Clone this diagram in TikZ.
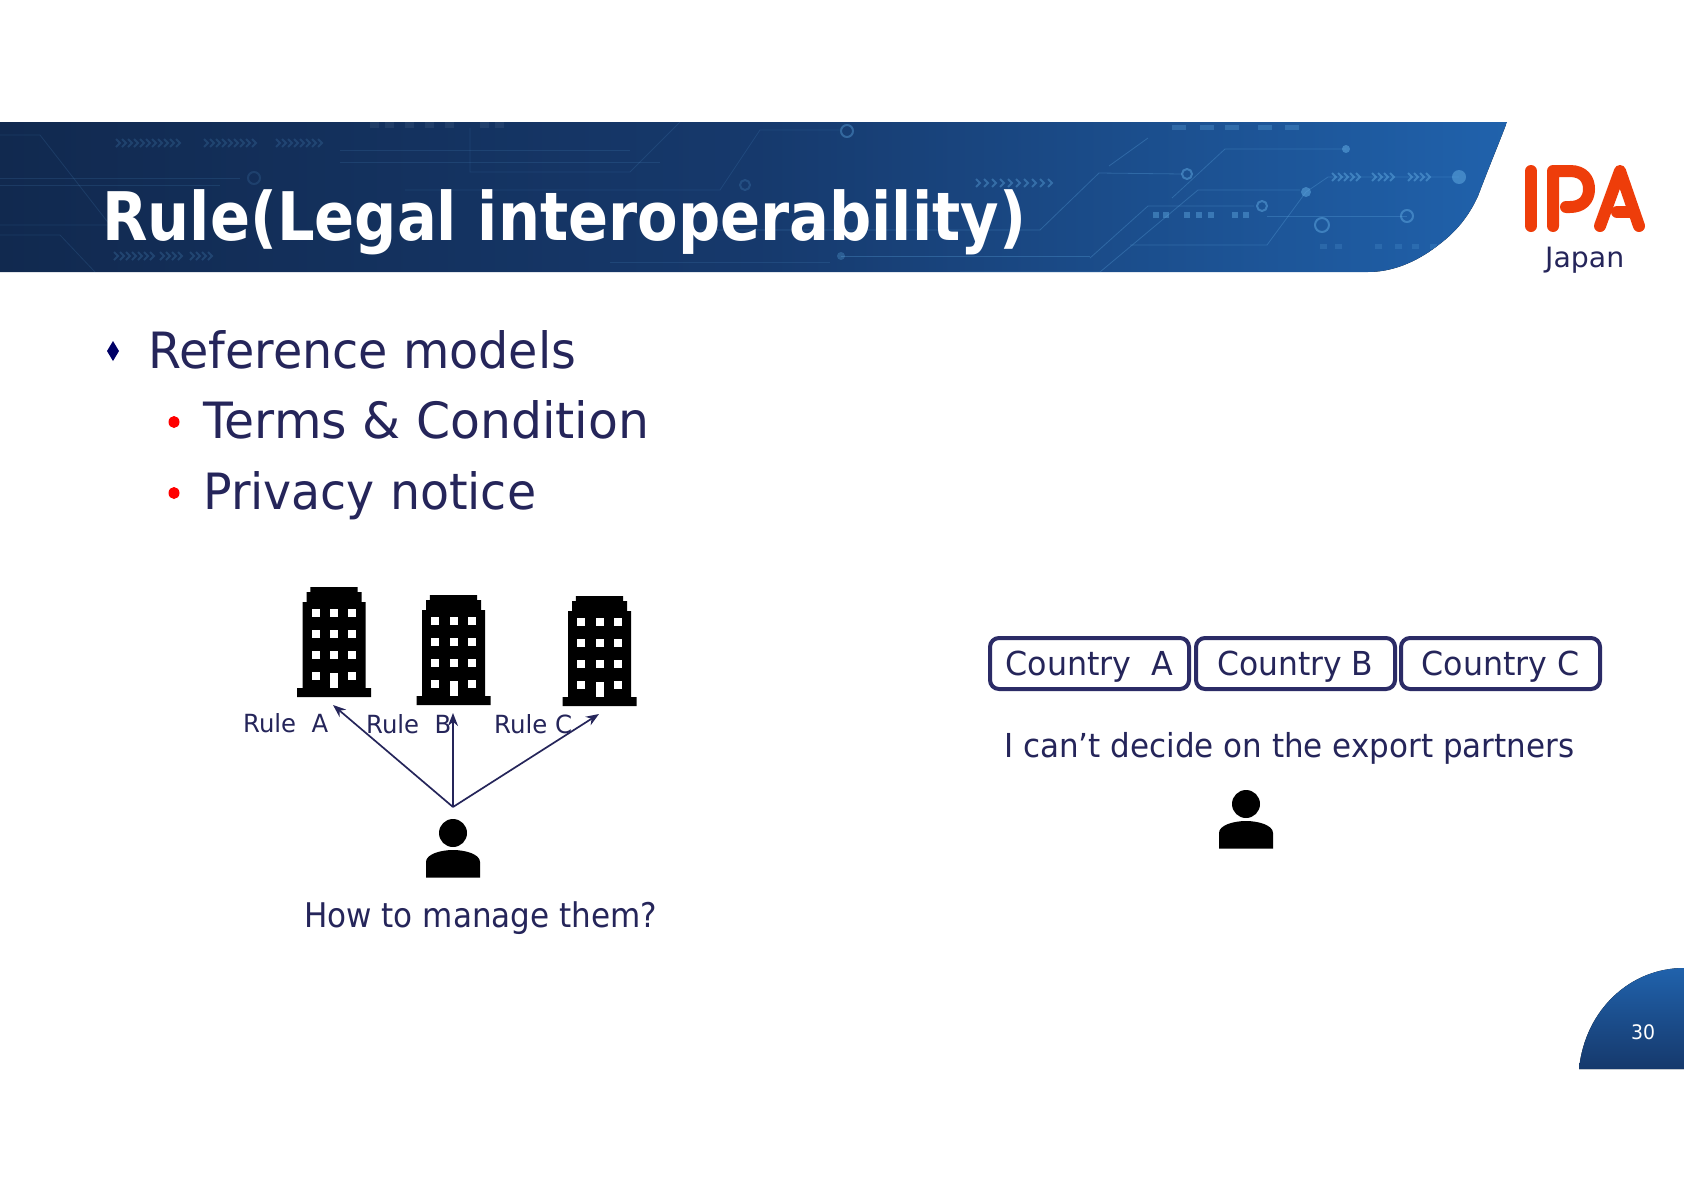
\documentclass[tikz,border=0pt]{standalone}
\usepackage{graphicx}
\usepackage{fontspec}
\setmainfont{DejaVu Sans}
\usetikzlibrary{arrows.meta}
\definecolor{ink}{HTML}{25255A}
\definecolor{boxline}{HTML}{2B2B66}
\definecolor{logored}{HTML}{EE3D0A}
\definecolor{bnavy}{HTML}{000066}
\definecolor{deco}{HTML}{5FA8E0}
\definecolor{ban1}{HTML}{11294F}
\definecolor{ban2}{HTML}{16396C}
\definecolor{ban3}{HTML}{2062AC}
\newcommand{\fw}[2]{\resizebox{#1pt}{\height}{#2}}
\tikzset{
  lab/.style={anchor=base west,inner sep=0pt,text=ink},
  big/.style={lab,font=\fontsize{50}{52}\selectfont},
  rulelab/.style={lab,font=\fontsize{25}{27}\selectfont},
  midlab/.style={lab,font=\fontsize{33}{35}\selectfont},
  cbox/.style={draw=boxline,line width=4pt,rounded corners=9pt,minimum width=199pt,minimum height=51pt,inner sep=0pt,text=ink,text height=23pt,text depth=0pt,font=\fontsize{33}{35}\selectfont},
  link/.style={draw=ink,line width=1.7pt,-{Stealth[length=13pt,width=10pt]}},
  logostroke/.style={draw=logored,line width=12pt,line cap=round,line join=round},
  dl/.style={draw=deco,line width=.8pt,opacity=.3},
  dlfaint/.style={draw=deco,line width=.8pt,opacity=.14},
  dr/.style={draw=deco,line width=2pt,opacity=.5,fill=none},
  dd/.style={fill=deco,opacity=.55},
  building/.pic={
    \fill[black] (-37,0) -- (-37,-9) -- (-31.5,-9) -- (-31.5,-95) -- (-27.5,-95) -- (-27.5,-105) -- (-23.7,-105) -- (-23.7,-110) -- (23.7,-110) -- (23.7,-105) -- (27.5,-105) -- (27.5,-95) -- (31.5,-95) -- (31.5,-9) -- (37,-9) -- (37,0) -- cycle;
    \foreach \wy in {-84,-63,-42} \foreach \wx in {-18.3,0,18.3}
      \fill[white] (\wx-4,\wy-4) rectangle (\wx+4,\wy+4);
    \fill[white] (-22.3,-25) rectangle (-14.3,-17);
    \fill[white] (14.3,-25) rectangle (22.3,-17);
    \fill[white] (-4,-24) rectangle (4,-9);
  },
  personbody/.pic={
    \fill[black] (-27,27.5) -- (-27,12) .. controls (-27,4) and (-12,0) .. (0,0) .. controls (12,0) and (27,4) .. (27,12) -- (27,27.5) -- cycle;
  }
}
\newcommand{\chev}[3]{\foreach \cx in {#1} \draw[deco,line width=1.8pt,opacity=#3] (\cx,#2-4) -- (\cx+4,#2) -- (\cx,#2+4);}
\begin{document}
\begin{tikzpicture}[x=1pt,y=-1pt]
\useasboundingbox (0,0) rectangle (1684,1191);
\fill[white] (0,0) rectangle (1684,1191);

% banner
\begin{scope}
  \clip (0,122) -- (1507,122) .. controls (1497,148) and (1487,172) .. (1478,196) .. controls (1468,218) and (1455,232) .. (1441,243) .. controls (1420,260) and (1395,272) .. (1368,272) -- (0,272) -- cycle;
  \fill[left color=ban1,right color=ban3,middle color=ban2] (0,122) rectangle (1507,272);
  % circuit decoration
  \draw[dlfaint] (0,135) -- (40,135) -- (110,225) -- (0,225);
  \draw[dlfaint] (0,185) -- (220,185) (240,178) -- (0,178);
  \draw[dlfaint] (0,235) -- (60,235) -- (95,272);
  \draw[dlfaint] (470,128) -- (470,172) -- (630,172) -- (680,122);
  \draw[dlfaint] (405,190) -- (720,190) -- (760,130) -- (840,130);
  \draw[dlfaint] (340,150) -- (630,150) (340,162) -- (660,162);
  \draw[dlfaint] (610,262) -- (830,262);
  \draw[dl] (700,230) -- (1040,230) -- (1099,173) -- (1182,174);
  \draw[dl] (1109,166) -- (1148,138);
  \draw[dl] (1172,198) -- (1225,149) -- (1346,149);
  \draw[dl] (1090,258) -- (1148,206) -- (1254,206);
  \draw[dl] (960,272) -- (1100,272) -- (1198,190) -- (1300,190);
  \draw[dl] (1130,245) -- (1267,245) -- (1306,192) -- (1328,177) -- (1459,177);
  \draw[dl] (1267,216) -- (1407,216);
  \draw[dl] (841,256) -- (1090,256);
  \draw[dr,opacity=.4] (847,131) circle (6);
  \draw[dr] (1187,174) circle (5);
  \draw[dr] (1262,206) circle (5);
  \draw[dr] (1322,225) circle (7);
  \draw[dr] (1407,216) circle (6);
  \draw[dr,opacity=.15] (254,178) circle (6);
  \draw[dr,opacity=.2] (745,185) circle (5);
  \fill[dd] (1346,149) circle (4);
  \fill[dd] (1306,192) circle (5);
  \fill[dd] (1459,177) circle (7);
  \fill[dd,opacity=.3] (841,256) circle (4);
  \chev{116,122,...,176}{143}{.18}
  \chev{204,210,...,252}{143}{.18}
  \chev{276,282,...,318}{143}{.18}
  \chev{114,120,...,150}{256}{.2}
  \chev{160,166,...,178}{256}{.2}
  \chev{190,196,...,210}{256}{.2}
  \chev{976,984,...,1048}{183}{.4}
  \chev{1332,1338,...,1356}{177}{.5}
  \chev{1372,1378,...,1392}{177}{.5}
  \chev{1408,1414,...,1428}{177}{.5}
  \foreach \dx in {1153,1163,1184,1196,1208,1232,1243}
    \fill[dd,opacity=.45] (\dx,212) rectangle (\dx+6,218);
  \foreach \dx in {1172,1200,1225,1258,1285}
    \fill[dd,opacity=.3] (\dx,125) rectangle (\dx+14,130);
  \foreach \dx in {1320,1335,1375,1395,1412,1430}
    \fill[dd,opacity=.2] (\dx,244) rectangle (\dx+7,249);
  \foreach \dx in {370,385,405,425,445,480,495}
    \fill[white,opacity=.06] (\dx,122) rectangle (\dx+9,128);
\end{scope}
\node[anchor=base west,inner sep=0pt,text=white,font=\fontsize{67}{69}\selectfont\bfseries] (title) at (102,240) {\fw{924}{Rule(Legal interoperability)}};

% logo
\draw[logostroke] (1531,171) -- (1531,226);
\draw[logostroke] (1553,226) -- (1553,171) -- (1570,171) .. controls (1584,171) and (1589,180) .. (1589,189) .. controls (1589,200) and (1582,207) .. (1570,207) -- (1566,207);
\draw[logostroke] (1600,226) -- (1620,171) -- (1639,226);
\draw[logostroke] (1617,212) -- (1632,212);
\node[lab,font=\fontsize{28}{30}\selectfont] (japan) at (1545,267) {\fw{79}{Japan}};

% bullets
\node[big] (refm) at (148,368) {\fw{428}{Reference models}};
\node[big] (terms) at (203,438) {\fw{446}{Terms \& Condition}};
\node[big] (priv) at (203,509) {\fw{333}{Privacy notice}};
\fill[bnavy] (113,341) -- (119,351) -- (113,361) -- (107,351) -- cycle;
\fill[red] (174,422) ellipse (5.5 and 6);
\fill[red] (174,493) ellipse (5.5 and 6);

% buildings
\pic at (334,697) {building};
\pic at (453.5,705) {building};
\pic at (599.5,706) {building};
\coordinate (ruleA) at (333,705);
\coordinate (ruleB) at (453,713);
\coordinate (ruleC) at (599,714);
\coordinate (asker) at (453,807);
\node[rulelab] (labA) at (243,732) {\fw{85}{Rule~~A}};
\node[rulelab] (labB) at (366,733) {\fw{85}{Rule~~B}};
\node[rulelab] (labC) at (494,733) {\fw{78}{Rule C}};
\draw[link] (asker) -- (ruleA);
\draw[link] (asker) -- (ruleB);
\draw[link] (asker) -- (ruleC);
\fill[black] (453,833) circle (14);
\pic at (453,850) {personbody};
\node[lab,font=\fontsize{34}{36}\selectfont] (howto) at (304,927) {\fw{353}{How to manage them?}};

% countries
\node[cbox] (ca) at (1089.5,663.5) {\fw{168}{Country~~A}};
\node[cbox] (cb) at (1295.5,663.5) {\fw{156}{Country B}};
\node[cbox] (cc) at (1500.5,663.5) {\fw{158}{Country C}};
\node[midlab] (cant) at (1004,757) {\fw{570}{I can’t decide on the export partners}};
\fill[black] (1246,804) circle (14);
\pic at (1246,821) {personbody};

% corner
\fill[bottom color=ban2,top color=ban3] (1579,1069) .. controls (1585,1010) and (1630,968) .. (1684,968) -- (1684,1069) -- cycle;
\node[anchor=base west,inner sep=0pt,text=white,font=\fontsize{20}{22}\selectfont] (pageno) at (1631,1039) {\fw{24}{30}};
\end{tikzpicture}
\end{document}
